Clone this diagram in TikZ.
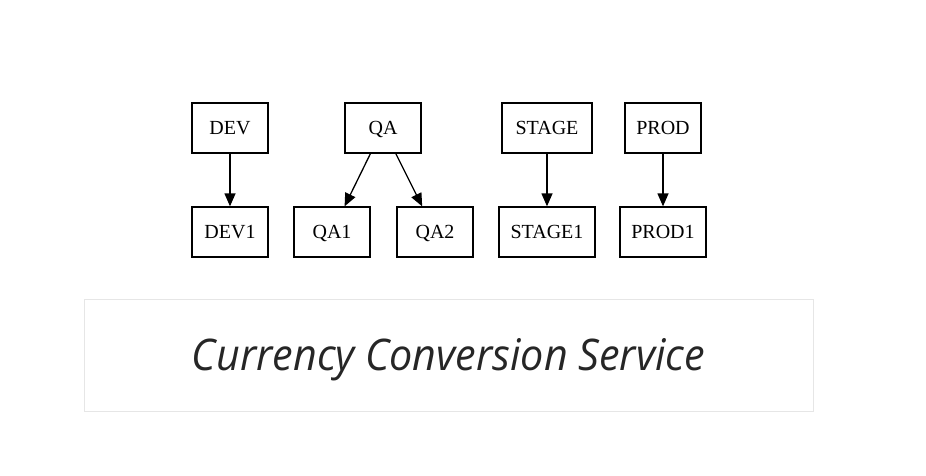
\documentclass[tikz,border=0pt]{standalone}
\usepackage{fontspec}
\setmainfont{Liberation Serif}
\newfontfamily\titlefont{Open Sans}
\usetikzlibrary{arrows.meta}
\definecolor{titlegray}{HTML}{262626}
\definecolor{framegray}{HTML}{E6E6E6}
\tikzset{
  envbox/.style={draw=black, line width=1.3pt, minimum height=50pt, inner sep=0pt,
    text height=15pt, text depth=1.8pt, font=\fontsize{20}{22}\selectfont},
  flow/.style={draw=black, line width=1.3pt, -{Triangle[length=13pt,width=11pt]}}
}
\begin{document}
\begin{tikzpicture}[x=1pt,y=-1pt]
\useasboundingbox[fill=white] (0,0) rectangle (926,476);
\node[envbox, minimum width=76pt] (dev) at (230,128) {DEV};
\node[envbox, minimum width=76pt] (qa) at (383,128) {QA};
\node[envbox, minimum width=90pt] (stage) at (547,128) {STAGE};
\node[envbox, minimum width=76pt] (prod) at (663,128) {PROD};
\node[envbox, minimum width=76pt] (dev1) at (230,232) {DEV1};
\node[envbox, minimum width=76pt] (qa1) at (332,232) {QA1};
\node[envbox, minimum width=76pt] (qa2) at (435,232) {QA2};
\node[envbox, minimum width=96pt] (stage1) at (547,232) {STAGE1};
\node[envbox, minimum width=86pt] (prod1) at (663,232) {PROD1};
\draw[flow] (dev) -- (dev1);
\draw[flow] (qa) -- (qa1);
\draw[flow] (qa) -- (qa2);
\draw[flow] (stage) -- (stage1);
\draw[flow] (prod) -- (prod1);
\node[draw=framegray, line width=0.8pt, minimum width=729pt, minimum height=112pt, inner sep=0pt] (frame) at (448.5,355) {};
\node[anchor=base, inner sep=0pt, text=titlegray] (title) at (448.5,370) {\resizebox{513pt}{32pt}{\titlefont\itshape Currency Conversion Service}};
\end{tikzpicture}
\end{document}
